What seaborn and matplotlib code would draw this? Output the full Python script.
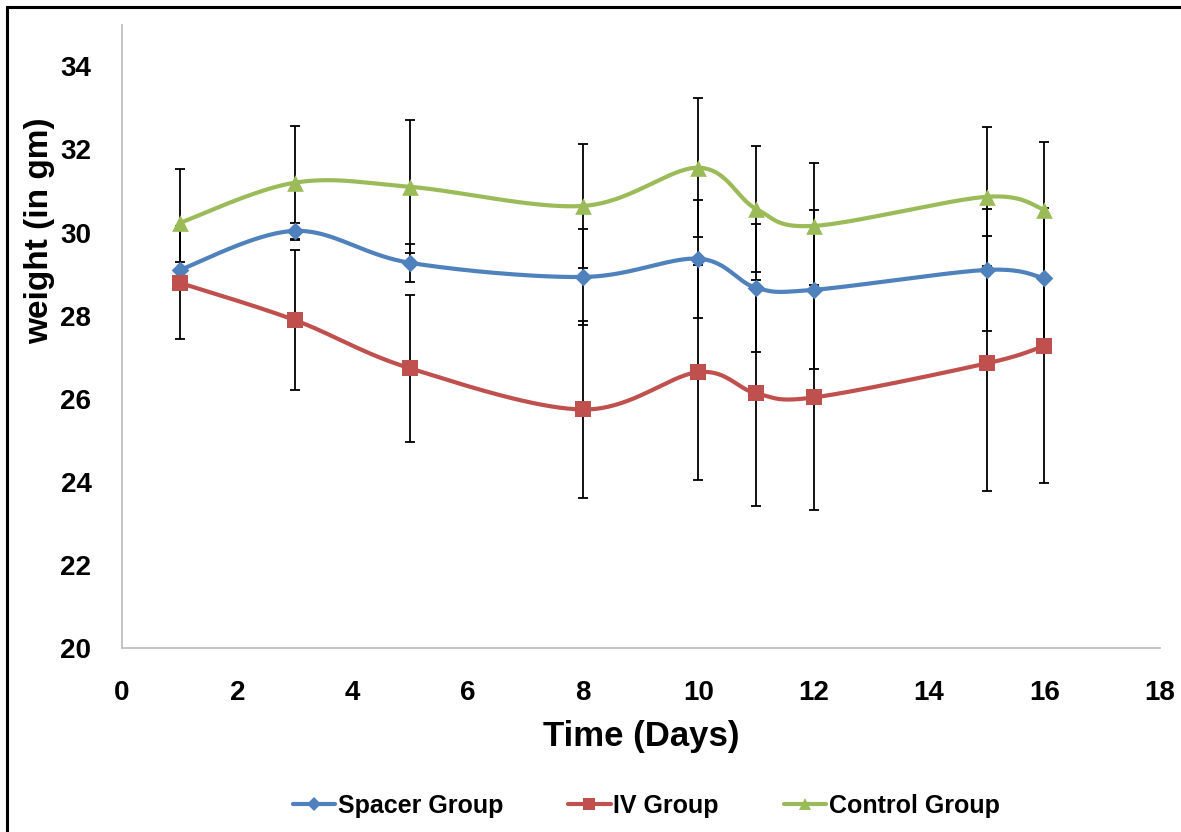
import numpy as np
import pandas as pd
import matplotlib
matplotlib.use("Agg")
import matplotlib.pyplot as plt
import seaborn as sns
from matplotlib.lines import Line2D
from matplotlib.patches import Rectangle

# data
days = [1, 3, 5, 8, 10, 11, 12, 15, 16]
spacer = [29.10, 30.04, 29.27, 28.93, 29.37, 28.67, 28.62, 29.10, 28.90]
spacer_err = [0.20, 0.20, 0.45, 1.16, 1.42, 1.54, 1.91, 1.47, 1.50]
iv = [28.79, 27.89, 26.73, 25.74, 26.64, 26.13, 26.03, 26.85, 27.27]
iv_err = [1.36, 1.68, 1.77, 2.14, 2.59, 2.72, 2.70, 3.07, 3.31]
control = [30.23, 31.20, 31.10, 30.64, 31.56, 30.57, 30.16, 30.86, 30.55]
control_err = [1.31, 1.37, 1.60, 1.49, 1.67, 1.51, 1.52, 1.67, 1.62]

groups = ["Spacer Group", "IV Group", "Control Group"]
colors = ["#4F81BD", "#C0504D", "#9BBB59"]
markers = ["D", "s", "^"]
msizes = [9, 11, 12]


def smooth(x, y, n=40):
    # excel style smoothed line (bezier through the points)
    pts = np.column_stack([x, y]).astype(float)
    p = np.vstack([pts[0], pts, pts[-1]])
    out = []
    t = np.linspace(0, 1, n)[:, None]
    for i in range(1, len(p) - 2):
        p0, p1, p2, p3 = p[i - 1], p[i], p[i + 1], p[i + 2]
        c1 = p1 + (p2 - p0) / 6
        c2 = p2 - (p3 - p1) / 6
        seg = (1 - t) ** 3 * p1 + 3 * (1 - t) ** 2 * t * c1 + 3 * (1 - t) * t ** 2 * c2 + t ** 3 * p2
        out.append(seg if i == 1 else seg[1:])
    return np.vstack(out)


sns.set_style("white")
plt.rcParams['font.family'] = ['Liberation Sans', 'DejaVu Sans']
plt.rcParams['font.weight'] = 'bold'
plt.rcParams['text.color'] = 'black'
plt.rcParams['axes.labelcolor'] = 'black'
plt.rcParams['xtick.color'] = 'black'
plt.rcParams['ytick.color'] = 'black'

fig = plt.figure(figsize=(11.81, 8.32), dpi=100)
ax = fig.add_axes([0.1033, 0.2212, 0.8786, 0.749])

series = [spacer, iv, control]
errs = [spacer_err, iv_err, control_err]

# error bars
for vals, e in zip(series, errs):
    ax.errorbar(days, vals, yerr=e, fmt='none', ecolor='black', elinewidth=1.3,
                capsize=3.5, capthick=1.3, zorder=2)

handles = []
for name, vals, c, m, ms in zip(groups, series, colors, markers, msizes):
    curve = smooth(days, vals)
    sns.lineplot(x=curve[:, 0], y=curve[:, 1], sort=False, estimator=None,
                 color=c, linewidth=3, ax=ax, zorder=3)
    sns.scatterplot(x=days, y=vals, marker=m, s=ms ** 2, color=c,
                    edgecolor=c, linewidth=0, ax=ax, zorder=4)
    handles.append(Line2D([0], [0], color=c, lw=3, marker=m, markersize=ms * 0.75,
                          markeredgewidth=0, label=name))

ax.set_xlim(0, 18)
ax.set_ylim(20, 35)
ax.set_xticks(range(0, 19, 2))
ax.set_yticks(range(20, 35, 2))
ax.tick_params(axis='both', length=0, labelsize=20)
ax.tick_params(axis='x', pad=23)
ax.tick_params(axis='y', pad=22)
for lab in ax.get_xticklabels() + ax.get_yticklabels():
    lab.set_fontweight('bold')

sns.despine(ax=ax)
for s in ['left', 'bottom']:
    ax.spines[s].set_color('#BFBFBF')
    ax.spines[s].set_linewidth(1.3)

ax.set_xlabel('Time (Days)', fontsize=25, fontweight='bold', labelpad=10)
fig.text(40 / 1181, 1 - 231 / 832, 'weight (in gm)', rotation=90, fontsize=24,
         fontweight='bold', ha='center', va='center')

fig.legend(handles=handles, loc='center', bbox_to_anchor=(0.547, 0.031), ncol=3,
           frameon=False, handlelength=1.7, handletextpad=0.1,
           columnspacing=2.6, prop={'weight': 'bold', 'size': 18})

# outer frame of the picture (left and top edges visible)
fig.patches.append(Rectangle((7 / 1181, -0.1), 1.2, (832 - 7) / 832 + 0.1,
                             transform=fig.transFigure, fill=False,
                             edgecolor='black', linewidth=2.2))

fig.savefig('out.png', dpi=100)
